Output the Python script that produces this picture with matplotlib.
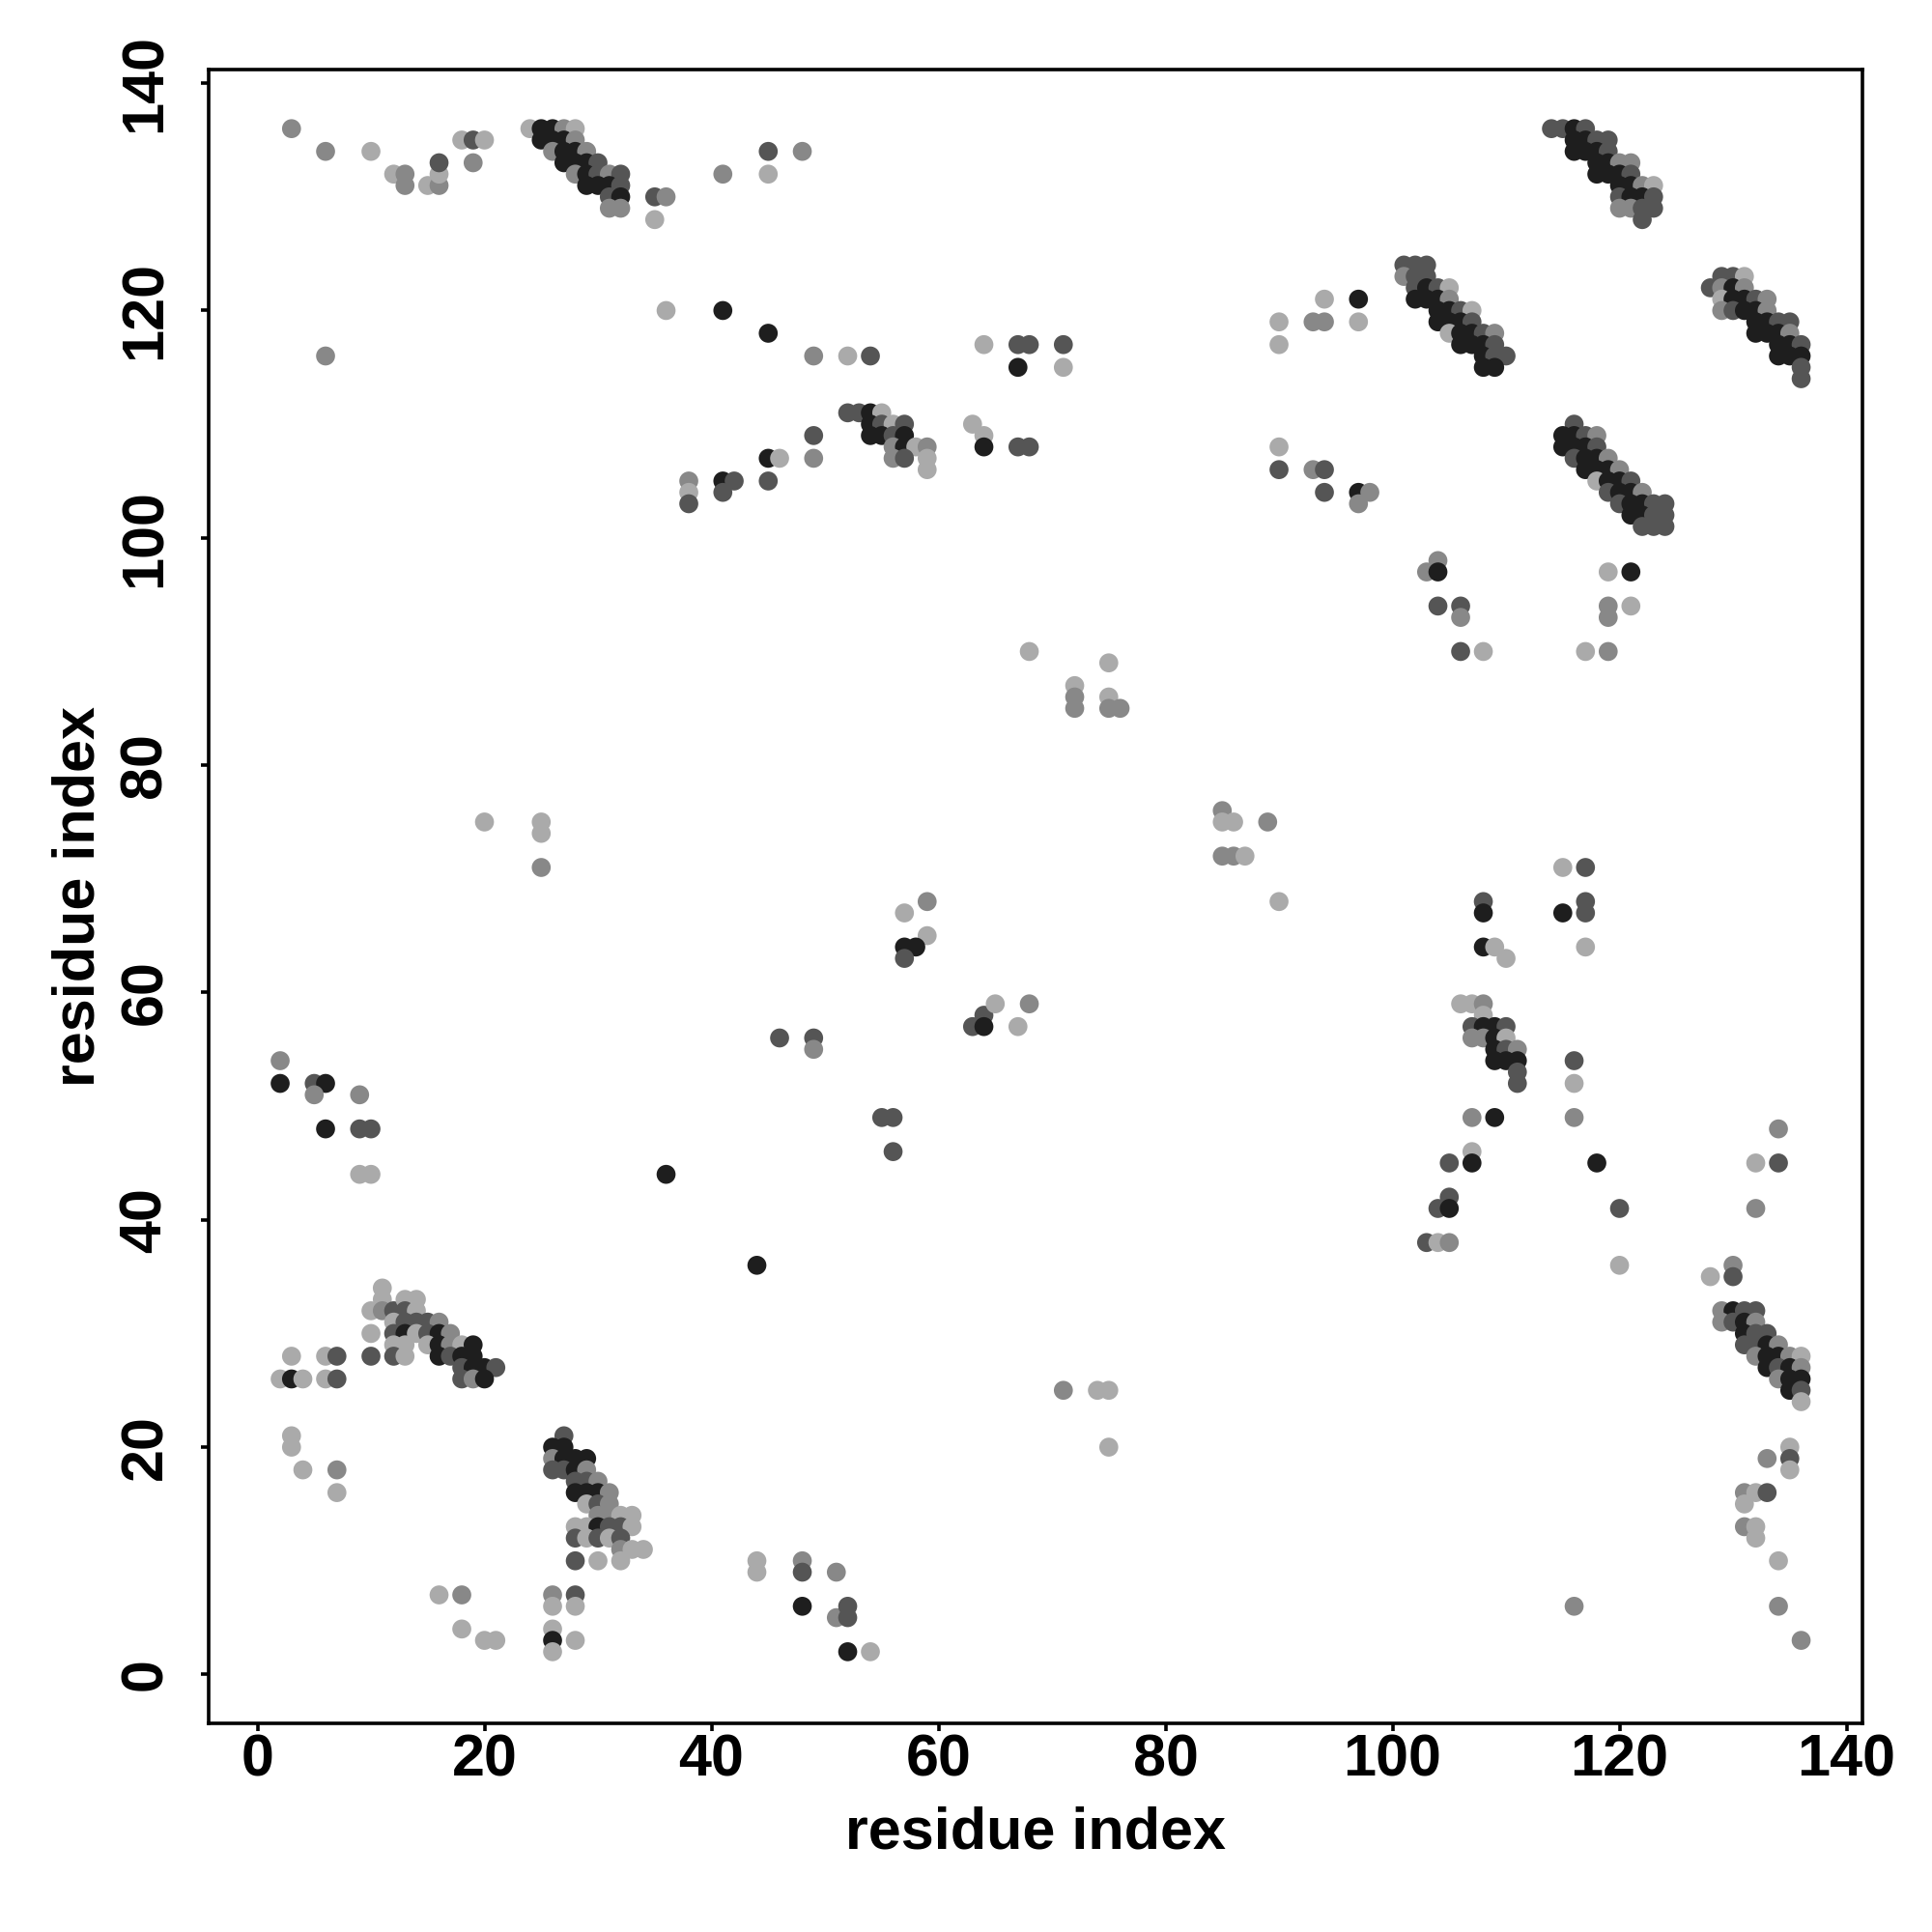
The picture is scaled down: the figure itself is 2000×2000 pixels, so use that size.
import numpy as np
import matplotlib
matplotlib.use("Agg")
import matplotlib.pyplot as plt

# contacts (residue i, residue j, strength 1=weak .. 4=strong)
top_left = [(3,136,2),(6,134,2),(10,134,1),(12,132,1),(13,132,2),(13,131,2),(15,131,1),(16,131,2),
            (16,132,1),(16,133,3),(18,135,1),(19,135,3),(20,135,1),(19,133,2),(6,116,2)]
cluster_a = [(24,136,1),(25,136,4),(26,136,4),(27,136,2),(28,136,1),
             (25,135,4),(26,135,4),(27,135,4),(28,135,2),
             (26,134,2),(27,134,4),(28,134,4),(29,134,2),
             (27,133,4),(28,133,4),(29,133,4),(30,133,3),
             (28,132,2),(29,132,4),(30,132,3),(31,132,2),(32,132,3),
             (29,131,4),(30,131,4),(31,131,4),(32,131,3),
             (31,130,3),(32,130,4),(31,129,2),(32,129,2)]
top_mid = [(35,130,3),(36,130,2),(35,128,1),(36,120,1),(41,120,4),(41,132,2),(45,134,3),(48,134,2),
           (45,132,1),(45,118,4),(49,116,2),(52,116,1),(54,116,3)]
cluster_b = [(52,111,3),(53,111,3),(54,111,4),(55,111,1),
             (54,110,4),(55,110,3),(56,110,1),(57,110,3),
             (54,109,4),(55,109,4),(56,109,3),(57,109,4),
             (56,108,2),(57,108,4),(58,108,1),(59,108,2),
             (56,107,2),(57,107,3),(59,107,1),(59,106,1)]
near_b = [(49,109,3),(45,107,4),(46,107,1),(49,107,2),(45,105,3),(41,105,4),(42,105,3),(38,105,2),
          (38,104,1),(38,103,3),(41,104,3),(63,110,1),(64,109,1),(64,108,4),(67,108,3),(68,108,3),
          (64,117,1),(67,117,3),(68,117,3),(71,117,3),(67,115,4),(71,115,1),
          (68,90,1),(72,87,1),(72,86,2),(72,85,2),(75,89,1),(75,86,1),(75,85,2),(76,85,2)]
upper_right = [(90,119,1),(90,117,1),(93,119,2),(94,119,2),(94,121,1),(97,121,4),(97,119,1),
               (90,108,1),(90,106,3),(93,106,2),(94,106,3),(94,104,3),(97,104,4),(98,104,2),(97,103,2)]
cluster_c = [(101,124,3),(102,124,3),(103,124,3),
             (101,123,2),(102,123,3),(103,123,3),
             (102,122,3),(103,122,4),(104,122,3),(105,122,1),
             (102,121,4),(103,121,4),(104,121,4),(105,121,2),
             (104,120,4),(105,120,4),(106,120,3),(107,120,1),
             (104,119,4),(105,119,4),(106,119,4),(107,119,3),
             (105,118,1),(106,118,4),(107,118,4),(108,118,3),(109,118,2),
             (106,117,4),(107,117,4),(108,117,4),(109,117,3),
             (108,116,4),(109,116,3),(110,116,3),(108,115,4),(109,115,4)]
cluster_d = [(114,136,3),(115,136,3),(116,136,4),(117,136,3),
             (116,135,4),(117,135,4),(118,135,3),(119,135,3),
             (116,134,4),(117,134,4),(118,134,4),(119,134,3),
             (118,133,4),(119,133,4),(120,133,2),(121,133,2),
             (118,132,4),(119,132,4),(120,132,4),(121,132,3),
             (120,131,4),(121,131,4),(122,131,2),(123,131,1),
             (120,130,3),(121,130,4),(122,130,4),(123,130,3),
             (120,129,2),(121,129,2),(122,129,3),(123,129,3),(122,128,3)]
cluster_e = [(129,123,3),(130,123,3),(131,123,1),
             (128,122,3),(129,122,2),(130,122,4),(131,122,2),
             (129,121,1),(130,121,4),(131,121,4),(132,121,3),(133,121,2),
             (129,120,2),(130,120,3),(131,120,4),(132,120,4),(133,120,2),
             (132,119,4),(133,119,4),(134,119,3),(135,119,3),
             (132,118,4),(133,118,4),(134,118,4),(135,118,2),
             (134,117,4),(135,117,4),(136,117,3),
             (134,116,4),(135,116,4),(136,116,4),(136,115,3),(136,114,3)]
cluster_f = [(116,110,3),
             (115,109,4),(116,109,4),(117,109,3),(118,109,2),
             (115,108,4),(116,108,4),(117,108,4),(118,108,3),
             (116,107,3),(117,107,4),(118,107,4),(119,107,2),
             (117,106,4),(118,106,4),(119,106,4),(120,106,2),
             (118,105,1),(119,105,4),(120,105,4),(121,105,3),
             (119,104,3),(120,104,4),(121,104,4),(122,104,2),
             (120,103,3),(121,103,4),(122,103,4),(123,103,3),(124,103,3),
             (121,102,4),(122,102,4),(123,102,3),(124,102,3),
             (122,101,3),(123,101,3),(124,101,3)]
mid_right = [(104,98,2),(103,97,2),(104,97,4),(104,94,3),(106,94,3),(106,93,2),(106,90,3),(108,90,1),
             (119,97,1),(121,97,4),(119,94,2),(121,94,1),(119,93,2),(117,90,1),(119,90,2),
             (85,76,2),(85,75,1),(86,75,1),(89,75,2),(85,72,2),(86,72,2),(87,72,1),(90,68,1),
             (115,71,1),(117,71,3),(108,68,3),(108,67,4),(115,67,4),(117,68,3),(117,67,3),
             (108,64,4),(109,64,1),(110,63,1),(117,64,1)]
cluster_g = [(106,59,1),(107,59,1),(108,59,2),(108,58,1),
             (107,57,3),(108,57,4),(109,57,4),(110,57,3),
             (107,56,2),(108,56,2),(109,56,4),(110,56,1),
             (109,55,4),(110,55,3),(111,55,2),
             (109,54,4),(110,54,4),(111,54,4),(111,53,3),(111,52,3),
             (107,49,2),(109,49,4),(116,54,3),(116,52,1),(116,49,2),
             (107,46,1),(105,45,3),(107,45,4),(105,42,3),(104,41,3),(105,41,4),
             (103,38,3),(104,38,1),(105,38,2),(118,45,4),(120,41,3),(120,36,1)]
mid_left = [(2,54,2),(2,52,4),(5,52,3),(6,52,4),(5,51,2),(6,48,4),(9,51,2),(9,48,3),(10,48,3),
            (9,44,1),(10,44,1),(36,44,4),(44,36,4),(46,56,3),(49,56,3),(49,55,2),
            (55,49,3),(56,49,3),(56,46,3),(57,67,1),(59,68,2),(59,65,1),(57,64,4),(58,64,4),(57,63,3),
            (63,57,3),(64,58,3),(64,57,4),(65,59,1),(67,57,1),(68,59,2),
            (20,75,1),(25,75,1),(25,74,1),(25,71,2),
            (71,25,2),(74,25,1),(75,25,1),(75,20,1)]
cluster_h = [(11,34,1),(11,33,1),(10,32,1),(11,32,2),(12,32,3),(13,33,1),(14,33,1),(13,32,3),(14,32,1),
             (12,31,1),(13,31,3),(14,31,3),(15,31,3),(16,31,2),
             (10,30,1),(12,30,3),(13,30,4),(14,30,1),(15,30,3),(16,30,4),(17,30,2),
             (12,29,1),(13,29,1),(15,29,1),(16,29,4),(17,29,2),(18,29,1),(19,29,4),
             (10,28,3),(12,28,3),(13,28,1),(16,28,4),(17,28,3),(18,28,4),(19,28,4),
             (18,27,3),(19,27,4),(20,27,4),(21,27,3),(18,26,3),(19,26,2),(20,26,4),
             (3,28,1),(6,28,1),(7,28,3),(2,26,1),(3,26,4),(4,26,1),(6,26,1),(7,26,3),
             (3,21,1),(3,20,1),(4,18,1),(7,18,2),(7,16,1)]
cluster_i = [(27,21,3),(26,20,4),(27,20,4),
             (26,19,2),(27,19,4),(28,19,4),(29,19,4),
             (26,18,3),(27,18,3),(28,18,4),(29,18,2),
             (28,17,3),(29,17,3),(30,17,2),
             (28,16,4),(29,16,4),(30,16,4),(31,16,2),
             (29,15,1),(30,15,3),(31,15,2),
             (30,14,2),(31,14,2),(32,14,1),(33,14,1),
             (28,13,1),(29,13,1),(30,13,4),(31,13,3),(32,13,3),(33,13,1),
             (28,12,3),(29,12,1),(30,12,3),(31,12,1),(32,12,3),
             (32,11,2),(33,11,1),(34,11,1),(28,10,3),(30,10,1),(32,10,1)]
bottom_left = [(16,7,1),(18,7,2),(18,4,1),(20,3,1),(21,3,1),(26,7,2),(28,7,3),(26,6,1),(28,6,1),
               (26,4,1),(26,3,4),(26,2,1),(28,3,1),
               (44,10,1),(44,9,1),(48,10,2),(48,9,3),(48,6,4),(51,9,2),(51,5,2),(52,6,3),(52,5,3),
               (52,2,4),(54,2,1)]
cluster_j = [(128,35,1),(130,36,2),(130,35,3),
             (129,32,2),(130,32,4),(131,32,3),(132,32,3),
             (129,31,2),(130,31,3),(131,31,4),(132,31,2),
             (131,30,4),(132,30,3),(133,30,3),
             (131,29,3),(132,29,3),(133,29,4),(134,29,2),
             (132,28,2),(133,28,4),(134,28,4),(135,28,2),(136,28,1),
             (133,27,4),(134,27,3),(135,27,4),(136,27,2),
             (134,26,2),(135,26,4),(136,26,4),(135,25,4),(136,25,3),(136,24,1)]
bottom_right = [(132,45,1),(134,45,3),(134,48,2),(132,41,2),(135,20,1),(135,19,3),(135,18,1),(133,19,2),
                (131,16,2),(132,16,1),(133,16,3),(131,15,1),(131,13,2),(132,13,1),(132,12,1),
                (134,10,1),(134,6,2),(136,3,2),(116,6,2)]

contacts = np.array(top_left + cluster_a + top_mid + cluster_b + near_b + upper_right + cluster_c
                    + cluster_d + cluster_e + cluster_f + mid_right + cluster_g + mid_left
                    + cluster_h + cluster_i + bottom_left + cluster_j + bottom_right)

grey = {1: "#aaaaaa", 2: "#888888", 3: "#555555", 4: "#1e1e1e"}
colors = [grey[int(s)] for s in contacts[:, 2]]

plt.rcParams["font.family"] = ["Liberation Sans", "DejaVu Sans"]
plt.rcParams["font.weight"] = "bold"

fig = plt.figure(figsize=(10, 10), dpi=200)
ax = fig.add_axes([0.108, 0.108, 0.856, 0.856])
ax.scatter(contacts[:, 0], contacts[:, 1], s=50, c=colors, edgecolors="none")

ax.set_xlim(-4.3, 141.4)
ax.set_ylim(-4.3, 141.2)
ax.set_xticks(range(0, 141, 20))
ax.set_yticks(range(0, 141, 20))
ax.tick_params(labelsize=22, length=3, width=1.3, direction="out")
ax.tick_params(axis="x", pad=0.8)
ax.tick_params(axis="y", pad=10)
for lab in ax.get_yticklabels():
    lab.set_rotation(90)
    lab.set_va("center")
for sp in ax.spines.values():
    sp.set_linewidth(1.3)

ax.set_xlabel("residue index", fontsize=22, fontweight="bold", labelpad=6.5)
ax.set_ylabel("residue index", fontsize=22, fontweight="bold", labelpad=4.5)

plt.savefig("out.png", dpi=200)
